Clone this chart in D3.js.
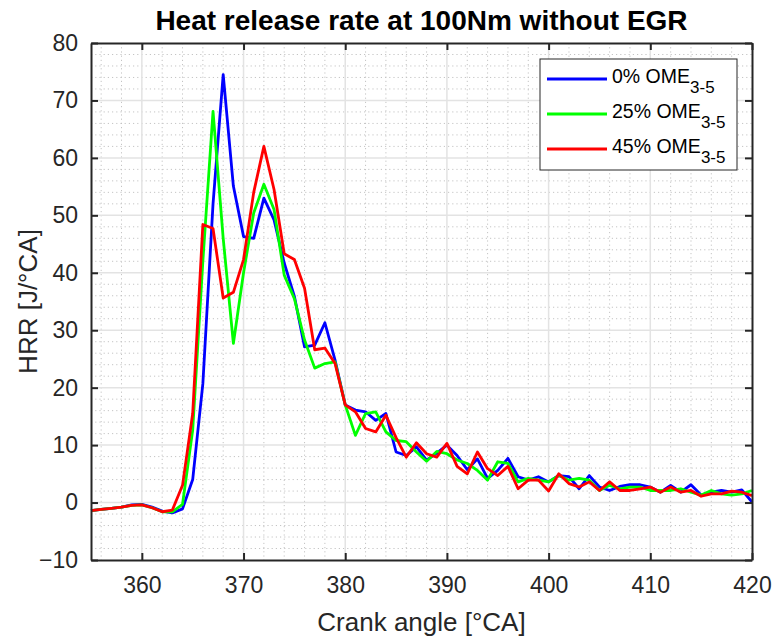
<!DOCTYPE html>
<html>
<head>
<meta charset="utf-8">
<script src="https://cdn.jsdelivr.net/npm/d3@7"></script>
<style>
  body { margin: 0; background: #fff; }
  svg { display: block; font-family: "Liberation Sans", Arial, sans-serif; }
</style>
</head>
<body>
<svg id="chart" width="774" height="639"></svg>
<script>
// crank angle, one sample per degree
const crankAngle = d3.range(355, 421);

const hrr0 = [-1.4, -1.2, -1.0, -0.8, -0.4, -0.3, -0.8, -1.5, -1.8, -1.1,
  4.0, 20.7, 52.0, 74.5, 55.1, 46.3, 46.0, 53.0, 49.2, 41.7,
  35.9, 27.1, 27.4, 31.3, 24.8, 17.0, 16.1, 15.8, 14.3, 15.5,
  8.8, 8.2, 9.7, 7.4, 8.6, 10.0, 8.2, 5.7, 7.6, 4.2,
  5.6, 7.7, 4.5, 3.9, 4.5, 3.6, 4.7, 4.5, 2.4, 4.7,
  2.7, 2.1, 2.8, 3.1, 3.1, 2.7, 1.8, 3.0, 1.8, 3.1,
  1.3, 1.8, 2.1, 1.8, 2.2, 0.1];

const hrr25 = [-1.4, -1.2, -1.0, -0.8, -0.5, -0.4, -0.9, -1.6, -1.6, -0.3,
  12.6, 42.0, 68.1, 46.0, 27.7, 40.0, 50.4, 55.4, 51.0, 39.6,
  35.5, 28.3, 23.4, 24.2, 24.5, 17.0, 11.7, 15.5, 15.8, 12.3,
  10.8, 10.6, 8.8, 7.2, 8.9, 8.5, 7.4, 6.8, 5.6, 3.9,
  7.1, 6.8, 3.6, 4.2, 3.9, 3.6, 4.7, 3.9, 4.2, 3.9,
  2.1, 3.0, 2.4, 2.7, 2.7, 2.1, 2.1, 2.1, 2.4, 1.8,
  1.3, 2.1, 1.5, 1.3, 1.5, 2.1];

const hrr45 = [-1.4, -1.2, -1.0, -0.8, -0.5, -0.4, -0.9, -1.6, -1.3, 3.0,
  15.5, 48.4, 47.7, 35.6, 36.6, 42.3, 54.0, 62.0, 54.5, 43.3,
  42.3, 37.3, 26.6, 26.9, 24.2, 17.0, 15.8, 12.9, 12.3, 15.2,
  11.3, 7.9, 10.4, 8.5, 7.9, 10.3, 6.3, 5.0, 8.8, 5.9,
  4.7, 6.3, 2.4, 3.9, 3.9, 2.0, 5.0, 3.3, 2.7, 3.6,
  2.1, 3.6, 2.1, 2.1, 2.4, 2.7, 1.8, 2.7, 1.8, 2.1,
  1.1, 1.5, 1.5, 2.0, 1.8, 1.2];

const seriesNames = ["0% OME", "25% OME", "45% OME"];
const seriesColors = ["#0000ff", "#00ff00", "#ff0000"];
const xTicks = [360, 370, 380, 390, 400, 410, 420];
const yTicks = [-10, 0, 10, 20, 30, 40, 50, 60, 70, 80];

const margin = { top: 43, right: 22, bottom: 79, left: 91 };
const width = 774, height = 639;
const innerWidth = width - margin.left - margin.right;
const innerHeight = height - margin.top - margin.bottom;

const svg = d3.select("#chart");
const g = svg.append("g").attr("transform", `translate(${margin.left},${margin.top})`);

const x = d3.scaleLinear().domain([355, 420]).range([0, innerWidth]);
const y = d3.scaleLinear().domain([-10, 80]).range([innerHeight, 0]);

// minor grid (dotted)
g.append("g").selectAll("line")
  .data(d3.range(356, 420, 2).filter(v => v % 10 !== 0))
  .join("line")
  .attr("x1", d => x(d)).attr("x2", d => x(d))
  .attr("y1", 0).attr("y2", innerHeight)
  .attr("stroke", "#c4c4c4").attr("stroke-width", 1).attr("stroke-dasharray", "1.2,3");
g.append("g").selectAll("line")
  .data(d3.range(-8, 80, 2).filter(v => v % 10 !== 0))
  .join("line")
  .attr("x1", 0).attr("x2", innerWidth)
  .attr("y1", d => y(d)).attr("y2", d => y(d))
  .attr("stroke", "#c4c4c4").attr("stroke-width", 1).attr("stroke-dasharray", "1.2,3");

// major grid
g.append("g").selectAll("line")
  .data(xTicks.slice(0, -1))
  .join("line")
  .attr("x1", d => x(d)).attr("x2", d => x(d))
  .attr("y1", 0).attr("y2", innerHeight)
  .attr("stroke", "#e3e3e3").attr("stroke-width", 1.5);
g.append("g").selectAll("line")
  .data(yTicks.slice(1, -1))
  .join("line")
  .attr("x1", 0).attr("x2", innerWidth)
  .attr("y1", d => y(d)).attr("y2", d => y(d))
  .attr("stroke", "#e3e3e3").attr("stroke-width", 1.5);

// lines
const line = d3.line()
  .x((d, i) => x(crankAngle[i]))
  .y(d => y(d));

[hrr0, hrr25, hrr45].forEach((s, i) => {
  g.append("path")
    .datum(s)
    .attr("fill", "none")
    .attr("stroke", seriesColors[i])
    .attr("stroke-width", 2.8)
    .attr("stroke-linejoin", "round")
    .attr("d", line);
});

// axes (ticks inside, box)
const axisColor = "#262626";
const tickFont = "23px";

const xAxis = g.append("g")
  .attr("transform", `translate(0,${innerHeight})`)
  .call(d3.axisBottom(x).tickValues(xTicks).tickSizeInner(-7).tickSizeOuter(0).tickPadding(17));
const yAxis = g.append("g")
  .call(d3.axisLeft(y).tickValues(yTicks).tickSizeInner(-7).tickSizeOuter(0).tickPadding(13));
const xTop = g.append("g")
  .call(d3.axisTop(x).tickValues(xTicks).tickSizeInner(-7).tickSizeOuter(0).tickFormat(""));
const yRight = g.append("g")
  .attr("transform", `translate(${innerWidth},0)`)
  .call(d3.axisRight(y).tickValues(yTicks).tickSizeInner(-7).tickSizeOuter(0).tickFormat(""));

[xAxis, yAxis, xTop, yRight].forEach(a => {
  a.selectAll(".domain").attr("stroke", axisColor).attr("stroke-width", 2);
  a.selectAll(".tick line").attr("stroke", axisColor).attr("stroke-width", 2);
  a.selectAll("text")
    .attr("fill", axisColor)
    .style("font-size", tickFont)
    .style("font-family", "Liberation Sans, Arial, sans-serif");
});

// axis labels
svg.append("text")
  .attr("x", margin.left + innerWidth / 2)
  .attr("y", 631)
  .attr("text-anchor", "middle")
  .attr("fill", axisColor)
  .style("font-size", "26px")
  .text("Crank angle [°CA]");

svg.append("text")
  .attr("transform", `translate(37,${margin.top + innerHeight / 2}) rotate(-90)`)
  .attr("text-anchor", "middle")
  .attr("fill", axisColor)
  .style("font-size", "26px")
  .text("HRR [J/°CA]");

// title
svg.append("text")
  .attr("x", margin.left + innerWidth / 2)
  .attr("y", 30)
  .attr("text-anchor", "middle")
  .attr("fill", "#000")
  .style("font-size", "28px")
  .style("font-weight", "bold")
  .text("Heat release rate at 100Nm without EGR");

// legend
const legend = svg.append("g").attr("transform", "translate(540,59)");
legend.append("rect")
  .attr("width", 197).attr("height", 111)
  .attr("fill", "#fff").attr("stroke", axisColor).attr("stroke-width", 1);

seriesNames.forEach((name, i) => {
  const ly = 20 + i * 35;
  legend.append("line")
    .attr("x1", 7).attr("x2", 67)
    .attr("y1", ly).attr("y2", ly)
    .attr("stroke", seriesColors[i]).attr("stroke-width", 2.8);
  const t = legend.append("text")
    .attr("x", 72).attr("y", ly + 4)
    .attr("fill", "#000")
    .style("font-size", "19.5px");
  t.append("tspan").text(name);
  t.append("tspan").attr("dy", 10).style("font-size", "17px").text("3-5");
});
</script>
</body>
</html>
